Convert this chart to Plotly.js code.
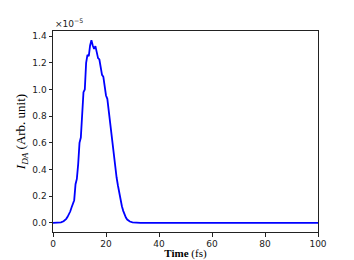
<!DOCTYPE html>
<html>
<head>
<meta charset="utf-8">
<script src="https://cdn.plot.ly/plotly-3.0.1.min.js"></script>
<style>html,body{margin:0;padding:0;background:#fff;}#chart{width:354px;height:260px;}</style>
</head>
<body>
<div id="chart"></div>
<script>
// Time in fs
var time_fs = [0,1,2,3,4,4.5,5,5.5,6,6.5,7,7.5,8,8.5,9,9.5,10,10.5,11,11.5,12,12.5,13,13.5,14,14.5,15,15.5,16,16.5,17,17.5,18,18.5,19,19.5,20,20.5,21,21.5,22,22.5,23,23.5,24,24.5,25,25.5,26,26.5,27,27.5,28,29,30,31,32,33,34,35,40,50,60,70,80,90,100];
// I_DA in units of 1e-5 (Arb. unit)
var intensity_e5 = [0,0,0.001,0.004,0.012,0.02,0.03,0.045,0.06,0.085,0.115,0.14,0.17,0.29,0.33,0.44,0.6,0.64,0.85,0.98,1.0,1.2,1.26,1.25,1.33,1.37,1.33,1.305,1.325,1.29,1.235,1.225,1.16,1.11,1.095,1.01,0.955,0.93,0.84,0.77,0.70,0.58,0.50,0.42,0.34,0.28,0.22,0.17,0.125,0.09,0.062,0.04,0.025,0.01,0.004,0.001,0,0,0,0,0,0,0,0,0,0,0];
var xTicks = [0,20,40,60,80,100];
var yTicks = [0.0,0.2,0.4,0.6,0.8,1.0,1.2,1.4];

var axisCommon = {
  showline: true, linecolor: '#222', linewidth: 1, mirror: true,
  ticks: 'outside', ticklen: 3.5, tickwidth: 1, tickcolor: '#222',
  showgrid: false, zeroline: false,
  tickfont: {family: 'DejaVu Sans', size: 9, color: '#222'}
};

var layout = {
  width: 354, height: 260,
  margin: {l: 53, r: 36, t: 31, b: 28},
  paper_bgcolor: '#fff', plot_bgcolor: '#fff',
  showlegend: false,
  xaxis: Object.assign({}, axisCommon, {
    range: [0, 100], tickvals: xTicks, ticktext: xTicks.map(String),
    title: {text: '<b>Time</b> (fs)', font: {family: 'Liberation Serif', size: 11, color: '#000'}, standoff: 3}
  }),
  yaxis: Object.assign({}, axisCommon, {
    range: [-0.0685, 1.4385], tickvals: yTicks, ticktext: yTicks.map(function(v){return v.toFixed(1);}),
    title: {text: '<i>I</i><sub><i>DA</i></sub> (Arb. unit)', font: {family: 'Liberation Serif', size: 13, color: '#000'}, standoff: 3}
  }),
  annotations: [{
    xref: 'paper', yref: 'paper', x: 0, y: 1, xanchor: 'left', yanchor: 'bottom',
    text: '×10<sup>−5</sup>', showarrow: false,
    font: {family: 'DejaVu Sans', size: 9, color: '#222'}, yshift: 0
  }]
};

Plotly.newPlot('chart', [{
  x: time_fs, y: intensity_e5, type: 'scatter', mode: 'lines',
  line: {color: '#0000ff', width: 1.8}
}], layout, {displayModeBar: false, staticPlot: true});
</script>
</body>
</html>
